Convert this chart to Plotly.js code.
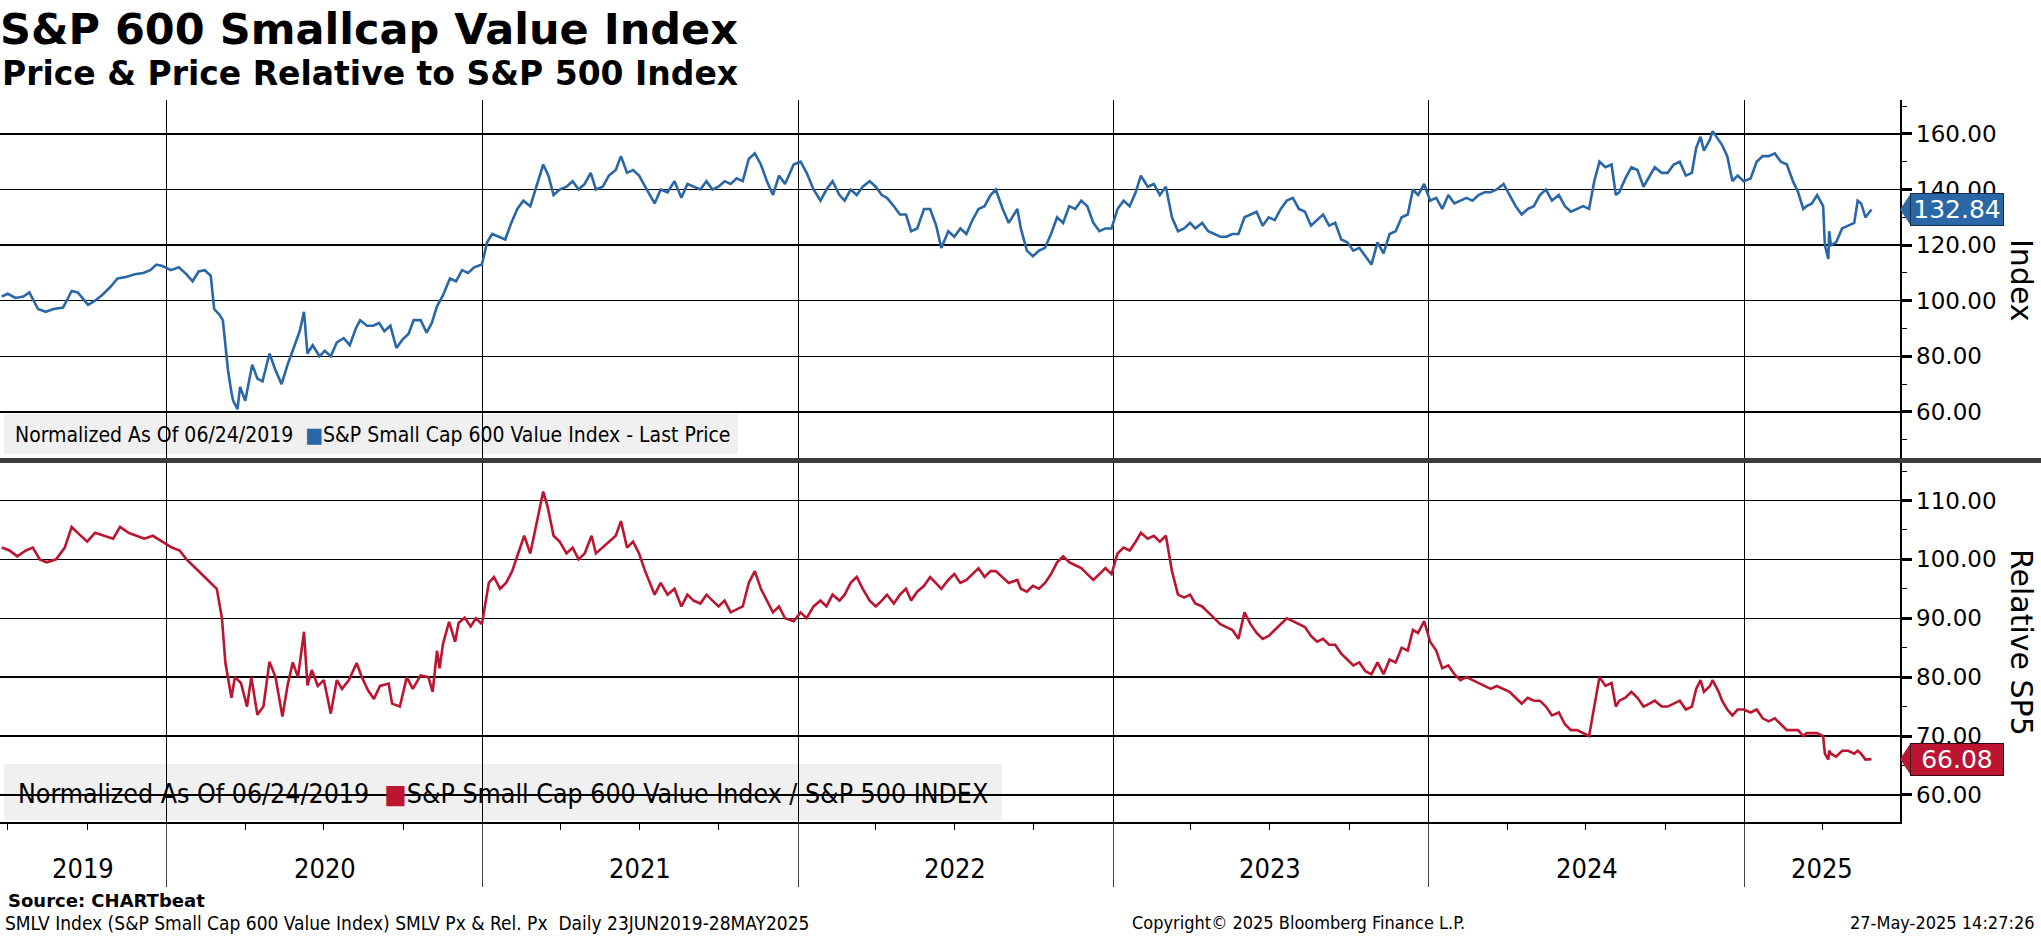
<!DOCTYPE html>
<html>
<head>
<meta charset="utf-8">
<script src="https://cdn.plot.ly/plotly-3.0.1.min.js"></script>
<style>html,body{margin:0;padding:0;background:#fff;}#chart{width:2041px;height:936px;}</style>
</head>
<body>
<div id="chart"></div>
<script>
// ---------------- DATA ----------------
const blueDates = [
'2019-06-24','2019-07-01','2019-07-10','2019-07-19','2019-07-26','2019-08-05','2019-08-14','2019-08-23','2019-09-03','2019-09-13','2019-09-20','2019-10-02','2019-10-10','2019-10-18','2019-10-28','2019-11-05','2019-11-15','2019-11-25','2019-12-05','2019-12-13','2019-12-20','2019-12-27',
'2020-01-06','2020-01-15','2020-01-24','2020-01-31','2020-02-07','2020-02-14','2020-02-21','2020-02-25','2020-03-02','2020-03-06','2020-03-09','2020-03-12','2020-03-16','2020-03-18','2020-03-23','2020-03-26','2020-04-01','2020-04-09','2020-04-15','2020-04-21','2020-04-29','2020-05-06','2020-05-13','2020-05-20','2020-05-27','2020-06-03','2020-06-08','2020-06-12','2020-06-18','2020-06-26','2020-07-02','2020-07-09','2020-07-16','2020-07-24','2020-07-31','2020-08-07','2020-08-12','2020-08-20','2020-08-27','2020-09-03','2020-09-09','2020-09-16','2020-09-23','2020-09-30','2020-10-07','2020-10-13','2020-10-21','2020-10-28','2020-11-03','2020-11-09','2020-11-16','2020-11-24','2020-12-01','2020-12-08','2020-12-15','2020-12-22','2020-12-31',
'2021-01-06','2021-01-12','2021-01-20','2021-01-27','2021-02-03','2021-02-10','2021-02-17','2021-02-25','2021-03-03','2021-03-12','2021-03-18','2021-03-24','2021-03-31','2021-04-08','2021-04-15','2021-04-22','2021-04-29','2021-05-06','2021-05-12','2021-05-20','2021-05-27','2021-06-04','2021-06-10','2021-06-17','2021-06-24','2021-07-01','2021-07-08','2021-07-19','2021-07-26','2021-08-03','2021-08-11','2021-08-19','2021-08-26','2021-09-02','2021-09-10','2021-09-17','2021-09-24','2021-10-01','2021-10-08','2021-10-15','2021-10-22','2021-10-29','2021-11-05','2021-11-12','2021-11-19','2021-11-26','2021-12-03','2021-12-10','2021-12-17','2021-12-27',
'2022-01-04','2022-01-11','2022-01-19','2022-01-27','2022-02-03','2022-02-10','2022-02-18','2022-02-24','2022-03-03','2022-03-10','2022-03-17','2022-03-25','2022-04-01','2022-04-08','2022-04-14','2022-04-22','2022-04-29','2022-05-06','2022-05-12','2022-05-19','2022-05-27','2022-06-03','2022-06-10','2022-06-16','2022-06-24','2022-07-01','2022-07-08','2022-07-15','2022-07-22','2022-07-29','2022-08-05','2022-08-12','2022-08-18','2022-08-26','2022-09-02','2022-09-12','2022-09-16','2022-09-23','2022-09-30','2022-10-07','2022-10-14','2022-10-21','2022-10-28','2022-11-04','2022-11-11','2022-11-18','2022-11-25','2022-12-02','2022-12-09','2022-12-16','2022-12-23','2022-12-30',
'2023-01-06','2023-01-13','2023-01-20','2023-01-27','2023-02-02','2023-02-10','2023-02-17','2023-02-24','2023-03-03','2023-03-10','2023-03-17','2023-03-24','2023-03-31','2023-04-06','2023-04-14','2023-04-21','2023-04-28','2023-05-05','2023-05-12','2023-05-19','2023-05-26','2023-06-02','2023-06-09','2023-06-16','2023-06-23','2023-06-30','2023-07-07','2023-07-14','2023-07-21','2023-07-28','2023-08-04','2023-08-11','2023-08-18','2023-08-25','2023-09-01','2023-09-08','2023-09-15','2023-09-22','2023-09-29','2023-10-06','2023-10-13','2023-10-20','2023-10-27','2023-11-03','2023-11-10','2023-11-17','2023-11-24','2023-12-01','2023-12-08','2023-12-14','2023-12-20','2023-12-27',
'2024-01-03','2024-01-10','2024-01-17','2024-01-24','2024-01-31','2024-02-07','2024-02-14','2024-02-21','2024-02-28','2024-03-06','2024-03-13','2024-03-20','2024-03-28','2024-04-04','2024-04-11','2024-04-18','2024-04-25','2024-05-02','2024-05-09','2024-05-16','2024-05-23','2024-05-31','2024-06-07','2024-06-14','2024-06-21','2024-06-28','2024-07-05','2024-07-11','2024-07-17','2024-07-24','2024-07-31','2024-08-05','2024-08-09','2024-08-16','2024-08-23','2024-08-30','2024-09-06','2024-09-13','2024-09-19','2024-09-27','2024-10-04','2024-10-11','2024-10-18','2024-10-25','2024-11-01','2024-11-06','2024-11-11','2024-11-15','2024-11-22','2024-11-25','2024-12-02','2024-12-06','2024-12-12','2024-12-18','2024-12-24','2024-12-31',
'2025-01-08','2025-01-15','2025-01-22','2025-01-29','2025-02-05','2025-02-12','2025-02-19','2025-02-26','2025-03-04','2025-03-10','2025-03-14','2025-03-20','2025-03-26','2025-04-02','2025-04-04','2025-04-08','2025-04-09','2025-04-11','2025-04-17','2025-04-24','2025-05-01','2025-05-08','2025-05-12','2025-05-16','2025-05-21','2025-05-28'];
const blueValues = [
101.5,102.5,101,101.5,103,97,96,97,97.5,103.5,103,98.5,100,102,105,108,108.5,109.5,110,111,113,112.5,
111,112,109.5,107,110.5,111,109,97,95,93,84,75,67,64,61,69,64,77,72,71,81,75,70,77,83,89,96,81,84,80,82,80,85,86.5,84,90,93,91,91,92,89,91,83,86,88,93,93,88.5,92,98,102,108,107,111,110,112,113,
121,124,123,122,128,133,136,134,140,149,145,138,140,141,143,140,142,146,140,141,145,147,152,146,147,145,141,135,140,139,143,137,142,141,140,143,140,141,143,142,144,143,151,153,149,143,138,145,142,149,
150,146,140,136,140,143,138,136,140,138,141,143,141,138,137,134,131,131,125,126,133,133,127,119,125,123,126,124,129,133,134,138,140,133,128,133,126,118,116,118,119,124,130,128,134,133,136,134,128,125,126,126,
133,136,134,139,145,141,142,138,141,130,125,126,128,126,128,125,124,123,123,124,124,130,131,132,127,130,129,133,136,137,133,132,127,129,131,127,128,122,121,118,119,116,113,121,117,124,125,130,131,140,138,142,
136,137,133,138,135,136,137,136,138,139,139,140,142,138,134,131,133,134,138,140,136,138,134,132,133,134,133,143,150,148,149,138,139,144,148,147,141,145,148,146,146,149,150,145,146,155,159,154,158,161,158,156,152,143,145,143,
144,150,152,152,153,150,149,143,139,133,134,135,138,134,120,115,125,120,121,126,127,128,136,135,130,132.84];

const redDates = [
'2019-06-24','2019-07-03','2019-07-12','2019-07-22','2019-07-30','2019-08-07','2019-08-15','2019-08-26','2019-09-05','2019-09-13','2019-09-20','2019-10-01','2019-10-10','2019-10-21','2019-10-31','2019-11-08','2019-11-18','2019-11-27','2019-12-06','2019-12-16','2019-12-27',
'2020-01-07','2020-01-16','2020-01-24','2020-01-31','2020-02-07','2020-02-14','2020-02-21','2020-02-28','2020-03-05','2020-03-09','2020-03-16','2020-03-20','2020-03-27','2020-04-03','2020-04-08','2020-04-15','2020-04-22','2020-04-29','2020-05-06','2020-05-14','2020-05-20','2020-05-26','2020-06-01','2020-06-08','2020-06-12','2020-06-17','2020-06-24','2020-07-01','2020-07-09','2020-07-16','2020-07-22','2020-07-30','2020-08-08','2020-08-14','2020-08-21','2020-08-28','2020-09-04','2020-09-14','2020-09-18','2020-09-27','2020-10-05','2020-10-12','2020-10-21','2020-10-30','2020-11-04','2020-11-09','2020-11-12','2020-11-16','2020-11-23','2020-11-30','2020-12-04','2020-12-11','2020-12-18','2020-12-24','2020-12-31',
'2021-01-05','2021-01-08','2021-01-14','2021-01-21','2021-01-28','2021-02-04','2021-02-11','2021-02-18','2021-02-25','2021-03-04','2021-03-12','2021-03-17','2021-03-24','2021-03-31','2021-04-08','2021-04-15','2021-04-22','2021-04-29','2021-05-07','2021-05-12','2021-05-20','2021-05-27','2021-06-04','2021-06-10','2021-06-17','2021-06-24','2021-07-01','2021-07-08','2021-07-19','2021-07-26','2021-08-03','2021-08-11','2021-08-19','2021-08-26','2021-09-02','2021-09-10','2021-09-17','2021-09-24','2021-10-01','2021-10-08','2021-10-15','2021-10-22','2021-10-29','2021-11-05','2021-11-12','2021-11-19','2021-11-26','2021-12-03','2021-12-10','2021-12-17','2021-12-27',
'2022-01-04','2022-01-11','2022-01-19','2022-01-27','2022-02-03','2022-02-10','2022-02-18','2022-02-24','2022-03-03','2022-03-10','2022-03-17','2022-03-25','2022-04-01','2022-04-08','2022-04-14','2022-04-22','2022-04-29','2022-05-06','2022-05-12','2022-05-19','2022-05-27','2022-06-03','2022-06-10','2022-06-16','2022-06-24','2022-07-01','2022-07-08','2022-07-15','2022-07-22','2022-07-29','2022-08-05','2022-08-12','2022-08-18','2022-08-26','2022-09-02','2022-09-12','2022-09-16','2022-09-23','2022-09-30','2022-10-07','2022-10-14','2022-10-21','2022-10-28','2022-11-04','2022-11-11','2022-11-18','2022-11-25','2022-12-02','2022-12-09','2022-12-16','2022-12-23','2022-12-30',
'2023-01-06','2023-01-13','2023-01-20','2023-01-27','2023-02-02','2023-02-10','2023-02-17','2023-02-24','2023-03-03','2023-03-10','2023-03-17','2023-03-24','2023-03-31','2023-04-06','2023-04-14','2023-04-21','2023-04-28','2023-05-05','2023-05-12','2023-05-19','2023-05-26','2023-06-02','2023-06-09','2023-06-16','2023-06-23','2023-06-30','2023-07-07','2023-07-14','2023-07-21','2023-07-28','2023-08-04','2023-08-11','2023-08-18','2023-08-25','2023-09-01','2023-09-08','2023-09-15','2023-09-22','2023-09-29','2023-10-06','2023-10-13','2023-10-20','2023-10-27','2023-11-03','2023-11-10','2023-11-17','2023-11-24','2023-12-01','2023-12-08','2023-12-14','2023-12-20','2023-12-27',
'2024-01-03','2024-01-10','2024-01-17','2024-01-24','2024-01-31','2024-02-07','2024-02-14','2024-02-21','2024-02-28','2024-03-06','2024-03-13','2024-03-20','2024-03-28','2024-04-04','2024-04-11','2024-04-18','2024-04-25','2024-05-02','2024-05-09','2024-05-16','2024-05-23','2024-05-31','2024-06-07','2024-06-14','2024-06-21','2024-06-28','2024-07-05','2024-07-11','2024-07-17','2024-07-24','2024-07-31','2024-08-05','2024-08-09','2024-08-16','2024-08-23','2024-08-30','2024-09-06','2024-09-13','2024-09-19','2024-09-27','2024-10-04','2024-10-11','2024-10-18','2024-10-25','2024-11-01','2024-11-06','2024-11-11','2024-11-15','2024-11-22','2024-11-25','2024-12-02','2024-12-06','2024-12-12','2024-12-18','2024-12-24','2024-12-31',
'2025-01-08','2025-01-15','2025-01-22','2025-01-29','2025-02-05','2025-02-12','2025-02-19','2025-02-26','2025-03-04','2025-03-10','2025-03-14','2025-03-20','2025-03-26','2025-04-02','2025-04-04','2025-04-08','2025-04-09','2025-04-11','2025-04-17','2025-04-24','2025-05-01','2025-05-08','2025-05-12','2025-05-16','2025-05-21','2025-05-28'];
const redValues = [
102,101.5,100.5,101.5,102,100,99.5,100,102,105.5,104.5,103,104.5,104,103.5,105.5,104.5,104,103.5,104,103,
102,101.5,100,99,98,97,96,95,90,82.4,76.5,80,79,75,80,73.6,75,82.6,80,73.3,78.6,82.5,80,87.7,78.6,81.2,78.5,79.5,73.8,79.5,78,79.5,82.4,80,77.8,76.3,78.5,78.9,75.5,75,80,78,80.3,80,77.5,84.5,81.5,85.7,89.4,86,89.2,90.1,88.6,90,89,
93,96,97,95,96,98,101,104,101,106,111.5,109,104,103,101,102,100,101,104,101,102,103,104,106.5,102,103,101,98,94,96,94,95,92,94,93,92.5,94,93,92,93,91,91.5,92,96,98,95,93,91,92,90,89.5,
91,90,92,93,92,94,93,94,96,97,95,93,92,93,94,92.5,94,95,93,94.5,95.5,97,96,95,96.5,97.5,96,96.5,97.5,98.5,97,98,98,97,96,96.5,95,94.5,95.5,95,96,97.5,99.5,100.5,99.5,99,98.5,97.5,96.5,97.5,98.5,97.5,
101,102,101.5,103,104.5,103.5,104,103,104,98,94,93.5,94,92.5,92,91,90,89,88.5,88,86.5,91,89,87.5,86.5,87,88,89,90,89.5,89,88.5,87,86,86.5,85.5,85.5,84,83,82,82.5,81,80.5,82.5,80.5,83,82.5,85,84.5,88,87.5,89.5,
86,84.5,81.5,82,80.5,79.5,80,79.5,79,78.5,78,78.5,78,77.5,76.5,75.5,76.5,76,76,75,73.5,74,72,71,71,70.5,70,75,80,78.5,79,75,76,76.5,77.5,76.5,75,75.5,76,75,75,75.5,76,74.5,75,78,79.5,77.5,78.5,79.5,77.5,76,74.5,73.5,74.5,74.5,
74,74.5,73,72.5,73,72,71,71,71,70,70.5,70.5,70.5,70,67,66,67.5,67,66.5,67.5,67.5,67,67.5,67,66,66.08];

const years = ['2019','2020','2021','2022','2023','2024','2025'];
const xRange = ['2019-06-22','2025-06-30'];
const topTicks = [60,80,100,120,140,160];
const botTicks = [60,70,80,90,100,110];
const titleText = 'S&P 600 Smallcap Value Index';
const subtitleText = 'Price & Price Relative to S&P 500 Index';
const legendTop = 'S&P Small Cap 600 Value Index - Last Price';
const legendBot = 'S&P Small Cap 600 Value Index / S&P 500 INDEX';
const normText = 'Normalized As Of 06/24/2019';

// ---------------- LAYOUT ----------------
const W = 2041, H = 936, mT = 100, mB = 114, mL = 0, mR = 141;
const plotW = W - mL - mR, plotH = H - mT - mB;
const py = (px) => (H - mB - px) / plotH;   // pixel y -> paper y
const pxX = (px) => (px - mL) / plotW;
const topRange = [42.7, 172.2];
const botRange = [55.4, 116.7];
const topDom = [py(460), 1];
const botDom = [0, py(461)];

const BLUE = '#2a67a7', RED = '#bb1531';
const FONT = 'DejaVu Sans, Verdana, sans-serif';
const CFONT = 'DejaVu Sans Condensed, Liberation Sans Narrow, DejaVu Sans, sans-serif';
const esc = s => s.replace(/&/g, '&amp;');

const traces = [
  {x: blueDates, y: blueValues, type: 'scatter', mode: 'lines', xaxis: 'x', yaxis: 'y',
   line: {color: BLUE, width: 2.6}, hoverinfo: 'skip'},
  {x: redDates, y: redValues, type: 'scatter', mode: 'lines', xaxis: 'x2', yaxis: 'y2',
   line: {color: RED, width: 2.6}, hoverinfo: 'skip'}
];

// year label positions: middle of visible portion of each year
const d0 = new Date(xRange[0]).getTime(), d1 = new Date(xRange[1]).getTime();
const yearAnn = years.map(y => {
  const a = Math.max(new Date(y + '-01-01').getTime(), d0);
  const b = Math.min(new Date((+y + 1) + '-01-01').getTime(), d1);
  const m = new Date((a + b) / 2).toISOString().slice(0, 10);
  return {x: m, xref: 'x2', y: py(868), yref: 'paper', text: y, showarrow: false,
          xanchor: 'center', yanchor: 'middle', font: {family: CFONT, size: 27, color: '#000'}};
});

const lastBlue = blueValues[blueValues.length - 1];
const lastRed = redValues[redValues.length - 1];
const topPxPerUnit = (topDom[1] - topDom[0]) * plotH / (topRange[1] - topRange[0]);
const botPxPerUnit = (botDom[1] - botDom[0]) * plotH / (botRange[1] - botRange[0]);
const halfH = 16.5;
function tri(v, yref, ppu, color) {
  const h = halfH / ppu, xb = pxX(1911);
  return {type: 'path', xref: 'paper', yref: yref, layer: 'above',
    path: `M 1,${v} L ${xb},${v + h} L ${xb},${v - h} Z`,
    fillcolor: color, line: {color: color, width: 0}};
}

const annotations = [
  {x: 0, xref: 'paper', y: py(73), yref: 'paper', text: '<b>' + esc(subtitleText) + '</b>',
   showarrow: false, xanchor: 'left', yanchor: 'middle', font: {family: FONT, size: 33, color: '#000'}},
  // legends
  {x: pxX(13), xref: 'paper', y: py(435), yref: 'paper', showarrow: false, xanchor: 'left', yanchor: 'middle',
   text: normText + '  <span style="color:' + BLUE + '">■</span>' + esc(legendTop),
   font: {family: CFONT, size: 21, color: '#000'}},
  {x: pxX(16), xref: 'paper', y: py(793), yref: 'paper', showarrow: false, xanchor: 'left', yanchor: 'middle',
   text: normText + '  <span style="color:' + RED + '">■</span>' + esc(legendBot),
   font: {family: CFONT, size: 26.5, color: '#000'}},
  // axis titles
  {x: pxX(2022), xref: 'paper', y: py(280), yref: 'paper', text: 'Index', textangle: 90, showarrow: false,
   xanchor: 'center', yanchor: 'middle', font: {family: FONT, size: 30, color: '#000'}},
  {x: pxX(2022), xref: 'paper', y: py(642), yref: 'paper', text: 'Relative SP5', textangle: 90, showarrow: false,
   xanchor: 'center', yanchor: 'middle', font: {family: FONT, size: 30, color: '#000'}},
  // last values
  {x: pxX(1910), xref: 'paper', y: lastBlue, yref: 'y', text: lastBlue.toFixed(2), showarrow: false,
   xanchor: 'left', yanchor: 'middle', bgcolor: BLUE, bordercolor: '#1c2f4a', borderwidth: 1, borderpad: 2,
   width: 88, height: 27, align: 'center', font: {family: FONT, size: 25, color: '#fff'}},
  {x: pxX(1910), xref: 'paper', y: lastRed, yref: 'y2', text: lastRed.toFixed(2), showarrow: false,
   xanchor: 'left', yanchor: 'middle', bgcolor: RED, bordercolor: '#3a0810', borderwidth: 1, borderpad: 2,
   width: 88, height: 27, align: 'center', font: {family: FONT, size: 25, color: '#fff'}},
  // footer
  {x: pxX(6), xref: 'paper', y: py(900), yref: 'paper', text: '<b>Source: CHARTbeat</b>', showarrow: false,
   xanchor: 'left', yanchor: 'middle', font: {family: FONT, size: 18, color: '#000'}},
  {x: pxX(3), xref: 'paper', y: py(923), yref: 'paper', showarrow: false, xanchor: 'left', yanchor: 'middle',
   text: 'SMLV Index (S&amp;P Small Cap 600 Value Index) SMLV Px &amp; Rel. Px  Daily 23JUN2019-28MAY2025',
   font: {family: CFONT, size: 19, color: '#000'}},
  {x: pxX(1130), xref: 'paper', y: py(923), yref: 'paper', showarrow: false, xanchor: 'left', yanchor: 'middle',
   text: 'Copyright© 2025 Bloomberg Finance L.P.', font: {family: CFONT, size: 18, color: '#000'}},
  {x: pxX(2037), xref: 'paper', y: py(923), yref: 'paper', showarrow: false, xanchor: 'right', yanchor: 'middle',
   text: '27-May-2025 14:27:26', font: {family: CFONT, size: 18, color: '#000'}}
].concat(yearAnn);

const shapes = [
  // legend backgrounds
  {type: 'rect', xref: 'paper', yref: 'paper', x0: pxX(4), x1: pxX(738), y0: py(454), y1: py(414),
   fillcolor: '#f0f0f0', line: {width: 0}, layer: 'below'},
  {type: 'rect', xref: 'paper', yref: 'paper', x0: pxX(4), x1: pxX(1002), y0: py(820), y1: py(764),
   fillcolor: '#f0f0f0', line: {width: 0}, layer: 'below'},
  // divider
  {type: 'line', xref: 'paper', yref: 'paper', x0: 0, x1: pxX(W), y0: py(460.5), y1: py(460.5),
   line: {color: '#3d3d3d', width: 5}},
  tri(lastBlue, 'y', topPxPerUnit, BLUE),
  tri(lastRed, 'y2', botPxPerUnit, RED)
];

const yCommon = {side: 'right', showline: true, linecolor: '#000', linewidth: 1.5,
  showgrid: true, gridcolor: '#000', gridwidth: 1.3, zeroline: false,
  ticks: 'outside', ticklen: 10, tickwidth: 3, tickcolor: '#000',
  tickformat: '.2f', tickfont: {family: FONT, size: 23, color: '#000'}, fixedrange: true};

const layout = {
  width: W, height: H,
  margin: {l: mL, r: mR, t: mT, b: mB, pad: 0},
  paper_bgcolor: '#fff', plot_bgcolor: 'rgba(0,0,0,0)',
  showlegend: false, hovermode: false,
  title: {text: '<b>' + esc(titleText) + '</b>', x: 0, xref: 'paper', xanchor: 'left',
          y: 1 - 29 / H, yref: 'container', yanchor: 'middle', font: {family: FONT, size: 43, color: '#000'}},
  xaxis: {domain: [0, 1], anchor: 'y', matches: 'x2', range: xRange, type: 'date',
    showticklabels: false, ticks: '', tickmode: 'linear', tick0: '2020-01-01', dtick: 'M12',
    showgrid: true, gridcolor: '#000', gridwidth: 1, zeroline: false, showline: false},
  xaxis2: {domain: [0, 1], anchor: 'y2', range: xRange, type: 'date',
    showticklabels: false, tickmode: 'linear', tick0: '2020-01-01', dtick: 'M12',
    ticks: 'outside', ticklen: 63, tickwidth: 1, tickcolor: '#444',
    showgrid: true, gridcolor: '#000', gridwidth: 1, zeroline: false,
    showline: true, linecolor: '#000', linewidth: 1.5,
    minor: {tickmode: 'linear', tick0: '2019-01-01', dtick: 'M3', ticks: 'outside', ticklen: 6, tickwidth: 1, tickcolor: '#000', showgrid: false}},
  yaxis: Object.assign({}, yCommon, {domain: topDom, anchor: 'x', range: topRange,
    tickmode: 'array', tickvals: topTicks,
    minor: {tickmode: 'linear', tick0: 50, dtick: 10, ticks: 'outside', ticklen: 5, tickwidth: 1, tickcolor: '#000', showgrid: false}}),
  yaxis2: Object.assign({}, yCommon, {domain: botDom, anchor: 'x2', range: botRange,
    tickmode: 'array', tickvals: botTicks,
    minor: {tickmode: 'linear', tick0: 55, dtick: 10, ticks: 'outside', ticklen: 5, tickwidth: 1, tickcolor: '#000', showgrid: false}}),
  annotations: annotations,
  shapes: shapes
};

Plotly.newPlot('chart', traces, layout, {staticPlot: true, displayModeBar: false});
</script>
</body>
</html>
